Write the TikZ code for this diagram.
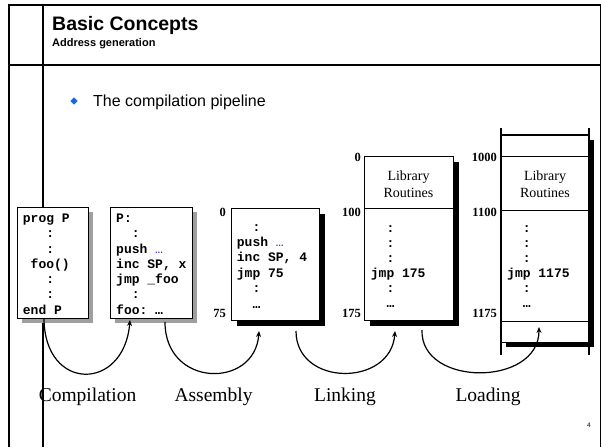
\documentclass[tikz,border=0pt]{standalone}
\usepackage{fontspec}
\setmainfont{Liberation Serif}
\setsansfont{Liberation Sans}
\setmonofont{Liberation Mono}
\usetikzlibrary{arrows.meta,shapes.geometric}
\definecolor{bulletblue}{RGB}{30,100,230}
\definecolor{dotblue}{RGB}{40,40,200}
\begin{document}
\begin{tikzpicture}[x=1pt,y=-1pt,
  mono/.style={font=\ttfamily\bfseries\fontsize{13}{15}\selectfont, anchor=base west, inner sep=0pt},
  addr/.style={font=\bfseries\fontsize{12.5}{14}\selectfont, anchor=base east, inner sep=0pt},
  lbl/.style={font=\fontsize{19.5}{22}\selectfont, anchor=base, inner sep=0pt},
  arc/.style={line width=1.2pt, -{Stealth[length=6pt,width=5pt]}},
  membox/.style={draw, line width=0.8pt, fill=white, inner sep=0pt, anchor=north west},
  libtext/.style={font=\fontsize{14}{16.5}\selectfont, align=center, inner sep=0pt},
  ]
\useasboundingbox (0,0) rectangle (602,447);
\fill[white] (0,0) rectangle (602,447);
% slide frame
\draw[line width=2.5pt] (9,4) -- (9,447);
\draw[line width=1.2pt] (43,4) -- (43,447);
\draw[line width=1.5pt] (8,5) -- (601,5);
\draw[line width=1.5pt] (8,65) -- (601,65);
\draw[line width=1pt] (600.5,4) -- (600.5,447);
% titles
\node[font=\sffamily\bfseries\fontsize{19.5}{22}\selectfont, anchor=base west, inner sep=0pt] (title) at (52,30) {Basic Concepts};
\node[font=\sffamily\bfseries\fontsize{11}{13}\selectfont, anchor=base west, inner sep=0pt] (sub) at (52,46.5) {Address generation};
\node[diamond, fill=bulletblue, minimum size=7.5pt, inner sep=0pt] (bul) at (74,101) {};
\node[font=\sffamily\fontsize{16}{19}\selectfont, anchor=base west, inner sep=0pt] (pipe) at (93,106) {The compilation pipeline};
% shadows
\fill[gray!75] (22,212) rectangle (93,323);
\fill[gray!75] (115,212) rectangle (197,323);
\fill[black] (237,214) rectangle (325,326);
\fill[black] (370,162) rectangle (459,326);
\fill[black] (506,140) rectangle (594,347);
% boxes
\node[membox, minimum width=71pt, minimum height=111pt] (b1) at (17,207) {};
\node[membox, minimum width=82pt, minimum height=111pt] (b2) at (110,207) {};
\node[membox, minimum width=88pt, minimum height=112pt] (b3) at (231,208) {};
\node[membox, minimum width=89pt, minimum height=164pt] (b4) at (364,156) {};
\draw[line width=1pt] (364,208) -- (453,208);
\node[membox, minimum width=88pt, minimum height=207pt] (b5) at (501,135) {};
\draw[line width=2pt] (501,128) -- (501,355);
\draw[line width=1.2pt] (589,128) -- (589,355);
\draw[line width=2.5pt] (501,135) -- (589,135);
\draw[line width=1pt] (501,156) -- (589,156);
\draw[line width=1pt] (501,210) -- (589,210);
\draw[line width=0.6pt] (501,321) -- (589,321);
% box texts
\foreach \s [count=\i from 0] in {{prog P},{\phantom{xxx}:},{\phantom{xxx}:},{\phantom{x}foo()},{\phantom{xxx}:},{\phantom{xxx}:},{end P}}
  \node[mono] (t1-\i) at ({22.7},{222.5+15.25*\i}) {\s};
\foreach \s [count=\i from 0] in {{P:},{\phantom{xx}:},{push \textcolor{dotblue}{\mdseries …}},{inc SP, x},{jmp \_foo},{\phantom{xx}:},{foo: …}}
  \node[mono] (t2-\i) at ({116},{222.5+15.25*\i}) {\s};
\foreach \s [count=\i from 0] in {{\phantom{xx}:},{push \textcolor{dotblue}{\mdseries …}},{inc SP, 4},{jmp 75},{\phantom{xx}:},{\phantom{xx}…}}
  \node[mono] (t3-\i) at ({236.7},{231+15.4*\i}) {\s};
\foreach \s [count=\i from 0] in {{\phantom{xx}:},{\phantom{xx}:},{\phantom{xx}:},{jmp 175},{\phantom{xx}:},{\phantom{xx}…}}
  \node[mono] (t4-\i) at ({370.7},{232+15*\i}) {\s};
\foreach \s [count=\i from 0] in {{\phantom{xx}:},{\phantom{xx}:},{\phantom{xx}:},{jmp 1175},{\phantom{xx}:},{\phantom{xx}…}}
  \node[mono] (t5-\i) at ({507},{232+15*\i}) {\s};
\node[libtext] (lib4) at (408.5,184) {Library\\Routines};
\node[libtext] (lib5) at (545,184) {Library\\Routines};
% addresses
\node[addr] (a3a) at (226,216.5) {0};
\node[addr] (a3b) at (226,317.5) {75};
\node[addr] (a4a) at (361,161.5) {0};
\node[addr] (a4b) at (361,216.5) {100};
\node[addr] (a4c) at (361,317.5) {175};
\node[addr] (a5a) at (497,161.5) {1000};
\node[addr] (a5b) at (497,216.5) {1100};
\node[addr] (a5c) at (497,317.5) {1175};
% arcs
\coordinate (c1s) at (44,318);  \coordinate (c1e) at (130,320);
\coordinate (c2s) at (165,322); \coordinate (c2e) at (259,331);
\coordinate (c3s) at (296,331); \coordinate (c3e) at (395,331);
\coordinate (c4s) at (422,330); \coordinate (c4e) at (539,327);
\draw[arc] (c1s) .. controls +(0,74) and +(-6,72) .. (c1e);
\draw[arc] (c2s) .. controls +(0,66) and +(-4,58) .. (c2e);
\draw[arc] (c3s) .. controls +(0,56) and +(-4,56) .. (c3e);
\draw[arc] (c4s) .. controls +(-2,57) and +(0,60) .. (c4e);
% stage labels
\node[lbl] (lcomp) at (87.5,401.5) {Compilation};
\node[lbl] (lasm) at (213.5,401.5) {Assembly};
\node[lbl] (llink) at (345,401.5) {Linking};
\node[lbl] (lload) at (488,401.5) {Loading};
\node[font=\sffamily\fontsize{6.5}{8}\selectfont, inner sep=0pt] (pg) at (589,425) {4};
\end{tikzpicture}
\end{document}
